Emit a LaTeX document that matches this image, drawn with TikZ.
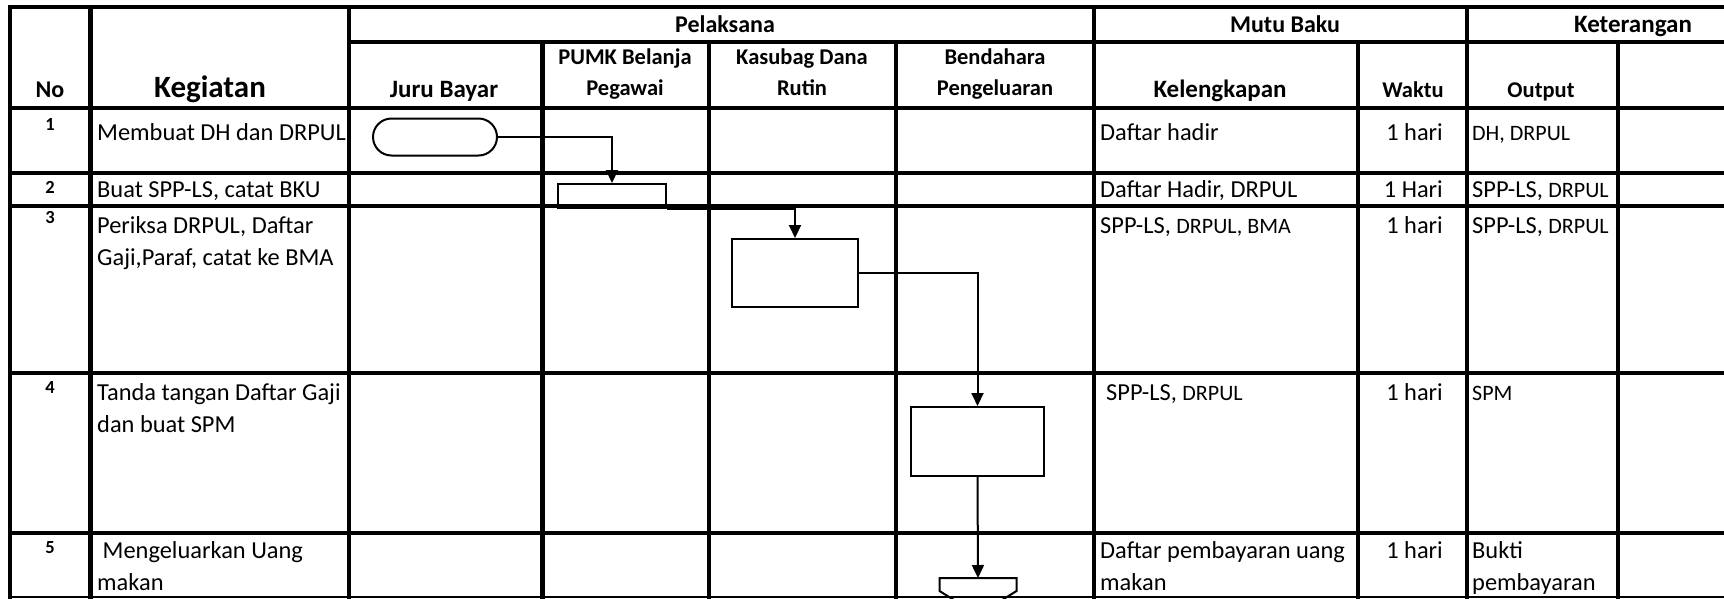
\documentclass[tikz,border=0pt]{standalone}
\usepackage{fontspec}
\setmainfont{Carlito}
\usetikzlibrary{arrows.meta,shapes.misc}

\newcommand{\kcl}{\fontsize{22}{28}\selectfont}

\begin{document}
\begin{tikzpicture}[x=1pt, y=-1pt,
        garis/.style={line width=4.5pt, line cap=rect},
        bentuk/.style={draw, line width=2pt, inner sep=0pt},
        panah/.style={line width=2pt, -{Triangle[length=13pt, width=12pt]}},
        isi/.style={anchor=base west, inner sep=0pt, align=left,
            font=\fontsize{24.4}{32}\selectfont},
        kepala/.style={anchor=base, inner sep=0pt, align=center,
            font=\bfseries\fontsize{22.5}{31}\selectfont},
        nomor/.style={anchor=base, inner sep=0pt,
            font=\bfseries\fontsize{18.5}{20}\selectfont}]
    \useasboundingbox (0, 0) rectangle (1724, 598);
    % garis tabel
    \draw[garis] (10, 7) -- (1730, 7);
    \draw[garis] (349, 42) -- (1730, 42);
    \draw[garis] (10, 108) -- (1730, 108);
    \draw[garis] (10, 173) -- (1730, 173);
    \draw[garis] (10, 206) -- (1730, 206);
    \draw[garis] (10, 373) -- (1730, 373);
    \draw[garis] (10, 533) -- (1730, 533);
    \draw[line width=2pt] (10, 597) -- (1730, 597);
    \draw[garis] (10, 7) -- (10, 597);
    \draw[garis] (90.5, 7) -- (90.5, 597);
    \draw[garis] (349, 7) -- (349, 597);
    \draw[garis] (1094, 7) -- (1094, 597);
    \draw[garis] (1467, 7) -- (1467, 597);
    \draw[garis] (542.5, 42) -- (542.5, 597);
    \draw[garis] (709, 42) -- (709, 597);
    \draw[garis] (896, 42) -- (896, 597);
    \draw[garis] (1358, 42) -- (1358, 597);
    \draw[garis] (1618, 42) -- (1618, 597);

    % kepala tabel (teks dua baris: base = baris terakhir)
    \node[kepala, font=\bfseries\fontsize{24}{30}\selectfont] (hNo) at (50, 97) {No};
    \node[kepala, font=\bfseries\fontsize{31}{36}\selectfont] (hKeg) at (210, 97) {Kegiatan};
    \node[kepala, font=\bfseries\fontsize{25}{30}\selectfont] (hJuru) at (444, 97) {Juru Bayar};
    \node[kepala, font=\bfseries\fontsize{24}{30}\selectfont] (hPel) at (725, 32) {Pelaksana};
    \node[kepala] (hPumk) at (625, 95) {PUMK Belanja\\Pegawai};
    \node[kepala] (hKas) at (802, 95) {Kasubag Dana\\Rutin};
    \node[kepala] (hBend) at (995, 95) {Bendahara\\Pengeluaran};
    \node[kepala, font=\bfseries\fontsize{24}{30}\selectfont] (hMutu) at (1285, 32) {Mutu Baku};
    \node[kepala, font=\bfseries\fontsize{25}{30}\selectfont] (hKet) at (1633, 32) {Keterangan};
    \node[kepala, font=\bfseries\fontsize{25}{30}\selectfont] (hKel) at (1220, 97) {Kelengkapan};
    \node[kepala] (hWkt) at (1413, 97) {Waktu};
    \node[kepala] (hOut) at (1541, 97) {Output};

    % baris 1
    \node[nomor] (n1) at (50, 130) {1};
    \node[isi] (k1) at (97, 140) {Membuat DH dan DRPUL};
    \node[isi] (kl1) at (1100, 140) {Daftar hadir};
    \node[isi, anchor=base east] (w1) at (1443, 140) {1 hari};
    \node[isi] (o1) at (1472, 140) {\kcl DH, DRPUL};
    % baris 2
    \node[nomor] (n2) at (50, 193) {2};
    \node[isi] (k2) at (97, 197) {Buat SPP-LS, catat BKU};
    \node[isi] (kl2) at (1100, 197) {Daftar Hadir, DRPUL};
    \node[isi, anchor=base east] (w2) at (1443, 197) {1 Hari};
    \node[isi] (o2) at (1472, 197) {SPP-LS, {\kcl DRPUL}};
    % baris 3
    \node[nomor] (n3) at (50, 223) {3};
    \node[isi] (k3) at (97, 265) {Periksa DRPUL, Daftar\\Gaji,Paraf, catat ke BMA};
    \node[isi] (kl3) at (1100, 233) {SPP-LS, {\kcl DRPUL, BMA}};
    \node[isi, anchor=base east] (w3) at (1443, 233) {1 hari};
    \node[isi] (o3) at (1472, 233) {SPP-LS, {\kcl DRPUL}};
    % baris 4
    \node[nomor] (n4) at (50, 393) {4};
    \node[isi] (k4) at (97, 432) {Tanda tangan Daftar Gaji\\dan buat SPM};
    \node[isi] (kl4) at (1106, 400) {SPP-LS, {\kcl DRPUL}};
    \node[isi, anchor=base east] (w4) at (1443, 400) {1 hari};
    \node[isi] (o4) at (1472, 400) {\kcl SPM};
    % baris 5
    \node[nomor] (n5) at (50, 553) {5};
    \node[isi] (k5) at (97, 590) {\ Mengeluarkan Uang\\makan};
    \node[isi] (kl5) at (1100, 590) {Daftar pembayaran uang\\makan};
    \node[isi, anchor=base east] (w5) at (1443, 558) {1 hari};
    \node[isi] (o5) at (1472, 590) {Bukti\\pembayaran};

    % bagan alir
    \node[bentuk, rounded rectangle, minimum width=124, minimum height=37] (mulai) at (435, 137) {};
    \node[bentuk, minimum width=108, minimum height=24] (pumk) at (612, 196) {};
    \node[bentuk, minimum width=126, minimum height=68] (kas) at (795, 273) {};
    \node[bentuk, minimum width=133, minimum height=69] (bend) at (977.5, 441.5) {};
    \coordinate (hal) at (978, 578);
    \draw[line width=2pt] ([xshift=-38.5pt]hal) -- ([xshift=38.5pt]hal) -- ++(0, 13)
        -- ++(-38.5, 24) -- ++(-38.5, -24) -- cycle;

    \draw[panah] (mulai.east) -| (pumk.north);
    \draw[panah] (pumk.south east) -| (kas.north);
    \draw[panah] (kas.east) -| (bend.north);
    \draw[panah] (bend.south) -- (hal);
\end{tikzpicture}
\end{document}
